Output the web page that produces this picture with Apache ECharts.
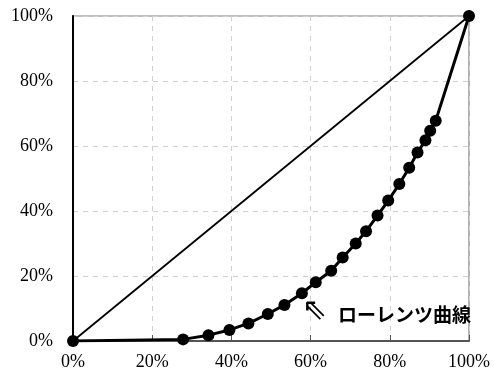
<!DOCTYPE html>
<html><head><meta charset="utf-8">
<script src="https://cdn.jsdelivr.net/npm/echarts@6/dist/echarts.min.js"></script>
<style>html,body{margin:0;padding:0;background:#fff}#c{width:494px;height:379px}</style>
</head><body><div id="c"></div>
<script>
// Cumulative population share (%)
const lorenzX = [0, 27.8, 34.2, 39.5, 44.3, 49.2, 53.4, 57.8, 61.3, 65.2, 68.1, 71.4, 74.0, 76.9, 79.6, 82.4, 84.9, 87.0, 89.0, 90.2, 91.6, 100];
// Cumulative income share (%)
const lorenzY = [0, 0.5, 1.8, 3.4, 5.4, 8.3, 11.1, 14.7, 18.1, 21.6, 25.7, 30.0, 33.8, 38.6, 43.2, 48.3, 53.3, 58.0, 61.8, 64.7, 67.8, 100];
const equalityX = [0, 100];
const equalityY = [0, 100];
const tickValues = [0, 20, 40, 60, 80, 100];
const arrowText = '⇖';
const arrowPos = [57.8, 9.2];
const annotationText = 'ローレンツ曲線';
const annotationPos = [66.9, 8.0];

const chart = echarts.init(document.getElementById('c'), null, {renderer: 'canvas'});
const serif = '"Liberation Serif", "DejaVu Serif", serif';
chart.setOption({
  animation: false,
  grid: {left: 73, right: 25, top: 16, bottom: 38, show: true, borderColor: '#808080', borderWidth: 1.2},
  xAxis: {
    type: 'value', min: 0, max: 100, interval: 20,
    axisLine: {show: true, lineStyle: {color: '#555', width: 2}},
    axisTick: {show: true, inside: true, length: 6, lineStyle: {color: '#555'}},
    axisLabel: {formatter: '{value}%', color: '#000', fontFamily: serif, fontSize: 18, margin: 12},
    splitLine: {show: true, lineStyle: {type: [5, 5], color: '#d0d0d0'}}
  },
  yAxis: {
    type: 'value', min: 0, max: 100, interval: 20,
    axisLine: {show: true, lineStyle: {color: '#000', width: 2}},
    axisTick: {show: false},
    axisLabel: {formatter: '{value}%', color: '#000', fontFamily: serif, fontSize: 18, margin: 20},
    splitLine: {show: true, lineStyle: {type: [5, 5], color: '#d0d0d0'}}
  },
  series: [
    {
      type: 'line', data: equalityX.map((x, i) => [x, equalityY[i]]),
      showSymbol: false, lineStyle: {color: '#000', width: 1.8}, z: 2
    },
    {
      type: 'line', data: lorenzX.map((x, i) => [x, lorenzY[i]]),
      symbol: 'circle', symbolSize: 12,
      itemStyle: {color: '#000'}, lineStyle: {color: '#000', width: 3}, z: 3,
      markPoint: {
        symbol: 'rect', symbolSize: 0,
        data: [
          {coord: arrowPos, value: arrowText,
            label: {formatter: arrowText, fontSize: 30, fontWeight: 'normal', fontFamily: '"DejaVu Sans", sans-serif'}},
          {coord: annotationPos, value: annotationText,
            label: {formatter: annotationText}}
        ],
        label: {show: true, position: 'right', distance: 0,
          color: '#000', fontSize: 19, fontWeight: 'bold',
          fontFamily: '"Noto Sans CJK JP", sans-serif'}
      }
    }
  ]
});
</script></body></html>
